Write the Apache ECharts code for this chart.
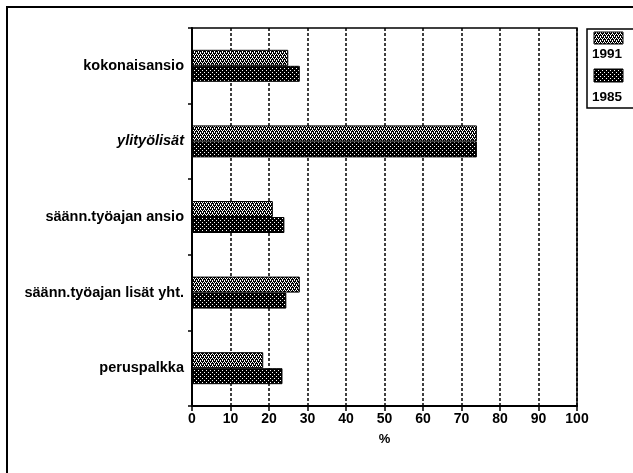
<!DOCTYPE html>
<html>
<head>
<meta charset="utf-8">
<script src="https://cdn.jsdelivr.net/npm/echarts@6/dist/echarts.min.js"></script>
<style>html,body{margin:0;padding:0;background:#fff}#c{width:633px;height:473px}</style>
</head>
<body>
<div id="c"></div>
<script>
const categories = ['kokonaisansio', 'ylityölisät', 'säänn.työajan ansio', 'säänn.työajan lisät yht.', 'peruspalkka'];
const values1991 = [25, 74, 21, 28, 18.5];
const values1985 = [28, 74, 24, 24.5, 23.5];
const seriesNames = ['1991', '1985'];
const xTicks = [0, 10, 20, 30, 40, 50, 60, 70, 80, 90, 100];

function makePattern(kind) {
  const c = document.createElement('canvas');
  c.width = 4; c.height = 4;
  const g = c.getContext('2d');
  g.fillStyle = '#000'; g.fillRect(0, 0, 4, 4);
  g.fillStyle = '#fff';
  if (kind === 'light') {
    g.fillRect(0, 0, 1, 1); g.fillRect(2, 0, 1, 1);
    g.fillRect(1, 2, 1, 1); g.fillRect(3, 2, 1, 1);
    g.fillRect(0, 1, 1, 1); g.fillRect(2, 3, 1, 1);
  } else {
    g.fillRect(0, 0, 1, 1); g.fillRect(2, 2, 1, 1);
  }
  return c;
}
const pat1991 = { image: makePattern('light'), repeat: 'repeat' };
const pat1985 = { image: makePattern('dark'), repeat: 'repeat' };

const chart = echarts.init(document.getElementById('c'), null, { renderer: 'canvas' });
const font = 'Liberation Sans';
chart.setOption({
  animation: false,
  backgroundColor: '#fff',
  grid: { left: 192, top: 28, right: 56, bottom: 67, show: true, borderColor: '#000', borderWidth: 1.5 },
  xAxis: {
    type: 'value', min: 0, max: 100, interval: 10,
    name: '%', nameLocation: 'middle', nameGap: 27,
    nameTextStyle: { fontFamily: font, fontSize: 13, color: '#000', fontWeight: 'bold' },
    axisLine: { show: true, lineStyle: { color: '#000', width: 2 } },
    axisTick: { show: true, length: 5, lineStyle: { color: '#000', width: 1.5 } },
    axisLabel: { fontFamily: font, fontSize: 14, fontWeight: 'bold', color: '#000', margin: 6,
      formatter: v => xTicks.includes(v) ? String(v) : '' },
    splitLine: { show: true, lineStyle: { color: '#000', type: [3, 2], width: 1.5 } }
  },
  yAxis: {
    type: 'category', data: categories, inverse: true,
    axisLine: { show: true, lineStyle: { color: '#000', width: 2 } },
    axisTick: { show: true, length: 4, lineStyle: { color: '#000', width: 1.5 } },
    axisLabel: { fontFamily: font, fontSize: 14.5, fontWeight: 'bold', color: '#000', margin: 8,
      formatter: v => v === 'ylityölisät' ? '{i|' + v + '}' : v,
      rich: { i: { fontFamily: font, fontSize: 14.5, fontWeight: 'bold', fontStyle: 'italic', color: '#000' } } }
  },
  series: [
    { name: seriesNames[0], type: 'bar', data: values1991, barWidth: 16, barGap: '0%',
      itemStyle: { color: pat1991, borderColor: '#000', borderWidth: 1 } },
    { name: seriesNames[1], type: 'bar', data: values1985, barWidth: 16, barGap: '0%',
      itemStyle: { color: pat1985, borderColor: '#000', borderWidth: 1 } }
  ],
  graphic: [
    { type: 'rect', shape: { x: 7, y: 7, width: 700, height: 600 }, style: { fill: null, stroke: '#000', lineWidth: 2 }, silent: true },
    { type: 'rect', shape: { x: 587, y: 29, width: 60, height: 79 }, style: { fill: '#fff', stroke: '#000', lineWidth: 1.5 }, silent: true },
    { type: 'rect', shape: { x: 594, y: 32, width: 29, height: 12 }, style: { fill: pat1991, stroke: '#000', lineWidth: 1 }, silent: true },
    { type: 'text', style: { x: 592, y: 54, text: seriesNames[0], fontFamily: font, fontSize: 13.5, fontWeight: 'bold', fill: '#000', verticalAlign: 'middle' } },
    { type: 'rect', shape: { x: 594, y: 69, width: 29, height: 13 }, style: { fill: pat1985, stroke: '#000', lineWidth: 1 }, silent: true },
    { type: 'text', style: { x: 592, y: 97, text: seriesNames[1], fontFamily: font, fontSize: 13.5, fontWeight: 'bold', fill: '#000', verticalAlign: 'middle' } }
  ]
});
</script>
</body>
</html>
